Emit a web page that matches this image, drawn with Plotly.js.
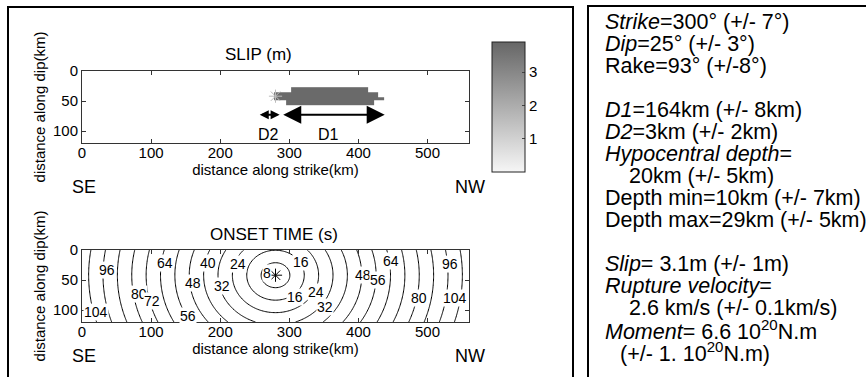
<!DOCTYPE html>
<html><head><meta charset="utf-8">
<script src="https://cdn.plot.ly/plotly-3.0.1.min.js"></script>
<style>html,body{margin:0;padding:0;background:#fff}</style>
</head><body><div id="chart" style="width:866px;height:377px"></div>
<script>
// ---------------- data ----------------
// slip patch: cell edges (km) and slip values (m) per row
const slipXEdges = [278, 296, 302, 414, 422, 428, 437];
const slipYEdges = [27, 35, 43, 48, 57];
const slipRow1 = [null, null, 3.8, null, null, null];
const slipRow2 = [3.8, 3.8, 3.8, 3.8, 3.8, null];
const slipRow3 = [3.8, 3.8, 3.8, 3.8, 3.8, 3.8];
const slipRow4 = [null, 3.8, 3.8, 3.8, null, null];
const slipRange = [0, 3.9];
const slipTicks = [1, 2, 3];
// hypocentre (km along strike, km along dip) and rupture velocity (km/s)
const hypoX = [280];
const hypoY = [42];
const ruptureVelocity = 2.6;
// onset-time contour levels (s)
const onsetLevels = {start: 8, end: 104, size: 8};
// contour label texts (s)
const onsetLabelText = ['96','104','80','72','64','56','48','40','32','24','8',
                        '16','16','24','32','48','56','64','80','96','104'];
// D1 / D2 arrows (km along strike) and their depth (km along dip)
const d1Span = [289, 438];
const d2Span = [255, 286];
const arrowDip = 73;
const xTicks = [0, 100, 200, 300, 400, 500];
const yTicks = [0, 50, 100];
const infoLines = [
  "<i>Strike</i>=300° (+/- 7°)",
  "<i>Dip</i>=25° (+/- 3°)",
  "Rake=93° (+/-8°)",
  "",
  "<i>D1</i>=164km (+/- 8km)",
  "<i>D2</i>=3km (+/- 2km)",
  "<i>Hypocentral depth</i>=",
  "20km (+/- 5km)",
  "Depth min=10km (+/- 7km)",
  "Depth max=29km (+/- 5km)",
  "",
  "<i>Slip</i>= 3.1m (+/- 1m)",
  "<i>Rupture velocity</i>=",
  "2.6 km/s (+/- 0.1km/s)",
  "<i>Moment</i>= 6.6 10<sup>20</sup>N.m",
  "(+/- 1. 10<sup>20</sup>N.m)"
];

// ---------------- layout helpers (positions, not data) ----------------
const W = 866, H = 377;
const px = x => x / W;
const py = y => 1 - y / H;
const FONT = 'Liberation Sans, Arial, Helvetica, sans-serif';
const infoIndent = [0,0,0,0,0,0,0,24,0,0,0,0,0,24,0,15];
// label placement in the onset-time panel (km along strike, km along dip)
const labelPosX = [36, 20, 82, 102, 120, 153, 160, 182, 202, 226, 267,
                   317, 308, 339, 351, 407, 428, 447, 488, 532, 559];
const labelPosY = [33, 103, 73, 85, 22, 110, 55, 22, 60, 23, 38,
                   20, 78, 70, 95, 42, 50, 18, 80, 23, 80];

// onset-time grid (distance from hypocentre / rupture velocity)
const gx = [], gy = [], gz = [];
for (let x = 0; x <= 560; x += 2) gx.push(x);
for (let y = 0; y <= 120; y += 2) gy.push(y);
for (const y of gy) {
  const row = [];
  for (const x of gx) {
    row.push(Math.hypot(x - hypoX[0], y - hypoY[0]) / ruptureVelocity);
  }
  gz.push(row);
}

const traces = [
  {
    type: 'heatmap', x: slipXEdges, y: slipYEdges,
    z: [slipRow1, slipRow2, slipRow3, slipRow4],
    xaxis: 'x', yaxis: 'y', zmin: slipRange[0], zmax: slipRange[1],
    colorscale: [[0, 'rgb(246,246,246)'], [1, 'rgb(102,102,102)']],
    hoverinfo: 'skip',
    colorbar: {
      x: px(492), xanchor: 'left', y: py(107), yanchor: 'middle',
      len: 130, lenmode: 'pixels', thickness: 33, thicknessmode: 'pixels',
      outlinewidth: 1, outlinecolor: '#222', xpad: 0, ypad: 0,
      tickvals: slipTicks, ticks: 'inside', ticklen: 3, tickcolor: '#444',
      tickfont: {size: 15, family: FONT, color: 'black'}
    }
  },
  {
    type: 'scatter', mode: 'markers', x: hypoX, y: hypoY, xaxis: 'x', yaxis: 'y',
    marker: {symbol: 'asterisk-open', size: 11, color: '#bbbbbb', line: {color: '#bbbbbb', width: 1}},
    hoverinfo: 'skip'
  },
  {
    type: 'contour', x: gx, y: gy, z: gz, xaxis: 'x2', yaxis: 'y2',
    contours: {start: onsetLevels.start, end: onsetLevels.end, size: onsetLevels.size,
      coloring: 'none', showlabels: false},
    line: {color: 'black', width: 1, smoothing: 1},
    showscale: false, hoverinfo: 'skip'
  },
  {
    type: 'scatter', mode: 'markers', x: hypoX, y: hypoY, xaxis: 'x2', yaxis: 'y2',
    marker: {symbol: 'asterisk-open', size: 11, color: 'black', line: {color: 'black', width: 1}},
    hoverinfo: 'skip'
  }
];

function xax(dom, anchor) {
  return {
    domain: dom, anchor: anchor, range: [0, 560], tickvals: xTicks,
    ticks: 'inside', ticklen: 4, tickcolor: '#333', mirror: 'ticks',
    showline: true, linecolor: '#333', linewidth: 1, showgrid: false, zeroline: false,
    ticklabelstandoff: -4,
    tickfont: {size: 15, family: FONT, color: 'black'},
    title: {text: 'distance along strike(km)', standoff: 1, font: {size: 15, family: FONT, color: 'black'}}
  };
}
function yax(dom, anchor) {
  return {
    domain: dom, anchor: anchor, range: [120, 0], tickvals: yTicks,
    ticks: 'inside', ticklen: 4, tickcolor: '#333', mirror: 'ticks',
    showline: true, linecolor: '#333', linewidth: 1, showgrid: false, zeroline: false,
    tickfont: {size: 15, family: FONT, color: 'black'},
    title: {text: 'distance along dip(km)', standoff: 3, font: {size: 15, family: FONT, color: 'black'}}
  };
}

const ann = [];
function txt(x, y, text, size, xanchor) {
  ann.push({xref: 'paper', yref: 'paper', x: px(x), y: py(y), text: text,
    showarrow: false, xanchor: xanchor || 'center', yanchor: 'middle',
    font: {size: size, family: FONT, color: 'black'}});
}
txt(258, 54, 'SLIP (m)', 17);
txt(274, 234, 'ONSET TIME (s)', 17);
txt(84, 187, 'SE', 18);
txt(470, 187, 'NW', 18);
txt(84, 356, 'SE', 18);
txt(470, 356, 'NW', 18);

// contour labels (inline, white background breaks the line like clabel)
onsetLabelText.forEach((t, i) => {
  const last = i === onsetLabelText.length - 1;
  ann.push({xref: 'x2', yref: 'y2', x: labelPosX[i], y: labelPosY[i], text: t,
    showarrow: false, bgcolor: 'white', borderpad: 0,
    xanchor: last ? 'right' : 'center', yanchor: 'middle',
    font: {size: 14, family: FONT, color: 'black'}});
});

// arrows D1 / D2 (data coordinates in the slip panel)
function arrow(span, size) {
  ann.push({xref: 'x', yref: 'y', axref: 'x', ayref: 'y', x: span[1], y: arrowDip,
    ax: span[0], ay: arrowDip, text: '', showarrow: true, arrowside: 'end+start',
    arrowhead: 2, startarrowhead: 2, arrowsize: size, startarrowsize: size,
    arrowwidth: 2, arrowcolor: 'black', standoff: 0, startstandoff: 0});
}
arrow(d1Span, 1.8);
arrow(d2Span, 0.9);
ann.push({xref: 'x', yref: 'y', x: (d2Span[0] + d2Span[1]) / 2, y: 105, text: 'D2', showarrow: false,
  font: {size: 16, family: FONT, color: 'black'}});
ann.push({xref: 'x', yref: 'y', x: 357, y: 105, text: 'D1', showarrow: false,
  font: {size: 16, family: FONT, color: 'black'}});

// info panel
infoLines.forEach((t, i) => {
  if (!t) return;
  txt(603 + infoIndent[i], 22 + 22 * i, t, 21.5, 'left');
});

const layout = {
  width: W, height: H, margin: {l: 0, r: 0, t: 0, b: 0},
  paper_bgcolor: 'white', plot_bgcolor: 'white', showlegend: false,
  font: {family: FONT, color: 'black', size: 15},
  xaxis: xax([px(82), px(469)], 'y'),
  yaxis: yax([py(143), py(71)], 'x'),
  xaxis2: xax([px(82), px(469)], 'y2'),
  yaxis2: yax([py(322), py(250)], 'x2'),
  annotations: ann,
  shapes: [
    {type: 'rect', xref: 'paper', yref: 'paper', x0: px(8), x1: px(573), y0: py(420), y1: py(7),
      line: {color: 'black', width: 2}},
    {type: 'rect', xref: 'paper', yref: 'paper', x0: px(588), x1: px(920), y0: py(420), y1: py(6),
      line: {color: 'black', width: 2}}
  ]
};

Plotly.newPlot('chart', traces, layout, {staticPlot: true, displayModeBar: false});
</script>
</body></html>
